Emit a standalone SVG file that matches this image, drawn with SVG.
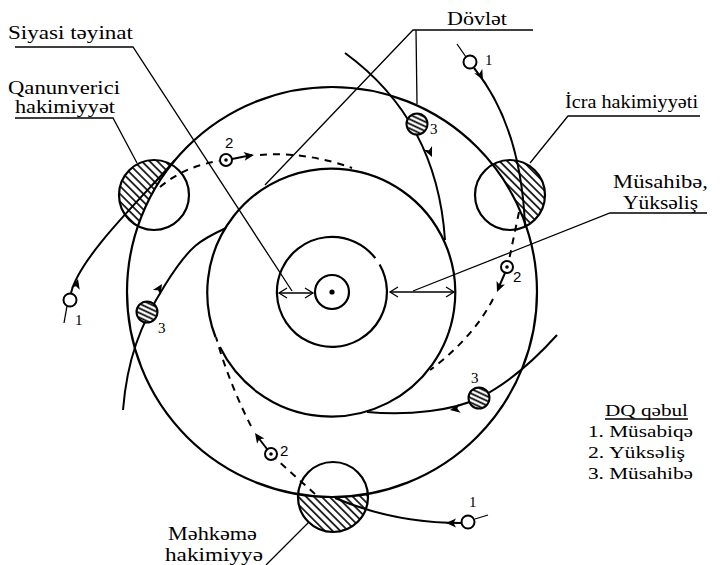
<svg xmlns="http://www.w3.org/2000/svg" xmlns:xlink="http://www.w3.org/1999/xlink" width="723" height="565" viewBox="0 0 723 565">
<style>
.c{fill:none;stroke:#000;stroke-width:2.2}
.p{fill:none;stroke:#000;stroke-width:2}
.d{fill:none;stroke:#000;stroke-width:2;stroke-dasharray:7 6}
.l{fill:none;stroke:#000;stroke-width:1.3}
.t{font-family:"Liberation Serif","Times New Roman",serif;font-size:19px;fill:#000}
.g{font-family:"Liberation Serif","Times New Roman",serif;font-size:16px;fill:#000}
.n{font-family:"Liberation Serif","Times New Roman",serif;font-size:15px;fill:#000}
.n2{font-family:"Liberation Sans",Arial,sans-serif;font-size:15px;fill:#000}
.o{fill:#fff;stroke:#000;stroke-width:2}
</style>
<defs>
<pattern id="hatch" patternUnits="userSpaceOnUse" width="5.5" height="5.5" patternTransform="rotate(45)"><line x1="0" y1="2.75" x2="5.5" y2="2.75" stroke="#000" stroke-width="1.6"/></pattern>
<pattern id="hatch2" patternUnits="userSpaceOnUse" width="4.2" height="4.2" patternTransform="rotate(25)"><line x1="0" y1="2.1" x2="4.2" y2="2.1" stroke="#000" stroke-width="1.7"/></pattern>
<path id="outside" d="M0,0H723V565H0Z M537,292 A205,205 0 1 0 127,292 A205,205 0 1 0 537,292Z" fill-rule="evenodd" fill="url(#hatch)"/>
<clipPath id="cL"><circle cx="154" cy="195" r="35"/></clipPath>
<clipPath id="cR"><circle cx="510" cy="195" r="35"/></clipPath>
<clipPath id="cB"><circle cx="333" cy="497" r="35"/></clipPath>
<path id="ah" d="M0,0 L-10,-4.5 L-7.5,0 L-10,4.5 Z" fill="#000"/>
<path id="oh" d="M-8,-5 L0,0 L-8,5" fill="none" stroke="#000" stroke-width="1.3"/>
<g id="tgt"><circle r="6" fill="#fff" stroke="#000" stroke-width="2"/><circle r="1.8" fill="#000"/></g>
</defs>
<rect width="723" height="565" fill="#fff"/>

<g id="orbits">
<circle class="c" cx="332" cy="292" r="205"/>
<path class="c" d="M215.5,337 A124,124 0 1 1 219.9,347.1"/>
<path class="c" d="M379.6,264.5 A55,55 0 1 1 375.3,258.1"/>
<circle class="c" cx="332" cy="292" r="17"/>
<circle cx="332" cy="292" r="2.6" fill="#000"/>
</g>

<g id="qanunverici">
<use href="#outside" clip-path="url(#cL)"/>
<circle class="c" cx="154" cy="195" r="35"/>
</g>
<g id="icra">
<use href="#outside" clip-path="url(#cR)"/>
<circle class="c" cx="510" cy="195" r="35"/>
</g>
<g id="mehkeme">
<use href="#outside" clip-path="url(#cB)"/>
<circle class="c" cx="333" cy="497" r="35"/>
</g>

<g id="connectors">
<path class="p" d="M71,293 C80,255 149,191 175,160"/>
<path class="l" d="M64,323 L67,306" stroke-width="2"/>
<use href="#ah" transform="translate(78,279) rotate(-75)"/>
<path class="p" d="M474,68 C500,100 522,150 525,226"/>
<path class="l" d="M457,44 L466,57" stroke-width="2"/>
<use href="#ah" transform="translate(483,80) rotate(62)"/>
<path class="p" d="M461,523 C420,523 375,515 335,498"/>
<path class="l" d="M475,519 L488,515" stroke-width="2"/>
<use href="#ah" transform="translate(446,523) rotate(180)"/>
<path class="d" d="M160,187 Q185,166 219,161"/>
<path class="p" d="M232,159 L252,155"/>
<use href="#ah" transform="translate(254,155) rotate(-8)"/>
<path class="d" d="M260,155 C290,152 325,158 352,168"/>
<path class="d" d="M519,212 L509,260"/>
<path class="p" d="M505,273 L498,289"/>
<use href="#ah" transform="translate(497,292) rotate(112)"/>
<path class="d" d="M493,299 C480,325 455,352 430,370"/>
<path class="d" d="M315,494 L276,459"/>
<path class="p" d="M267,449 L257,436"/>
<use href="#ah" transform="translate(255,433) rotate(-125)"/>
<path class="d" d="M251,426 C240,405 225,370 216,337"/>
<path class="p" d="M345,53 Q437,120 445,240"/>
<use href="#ah" transform="translate(432,157) rotate(66)"/>
<path class="p" d="M123,410 C127,360 140,325 165,285 C190,245 200,240 226,228"/>
<use href="#ah" transform="translate(162,284) rotate(-58)"/>
<path class="p" d="M557,335 C530,365 505,385 479,398 C455,410 410,416 367,412"/>
<use href="#ah" transform="translate(450,410) rotate(170)"/>
<path class="l" d="M279,293 L313,293"/>
<use href="#oh" transform="translate(313,293)"/>
<use href="#oh" transform="translate(279,293) rotate(180)"/>
<path class="l" d="M390,292 L454,292"/>
<use href="#oh" transform="translate(454,292)"/>
<use href="#oh" transform="translate(390,292) rotate(180)"/>
<path class="l" d="M15,47 L133,47 L292,291"/>
<path class="l" d="M15,118 L113,118 L137,163"/>
<path class="l" d="M533,30 L413,30 L265,185 M416,30 L417,104"/>
<path class="l" d="M700,116 L568,116 L530,163"/>
<path class="l" d="M707,213 L610,213 L413,291"/>
<path class="l" d="M266,565 L309,522"/>
</g>

<g id="markers">
<circle class="o" cx="70" cy="300" r="6.5"/>
<circle class="o" cx="470" cy="62" r="6.5"/>
<circle class="o" cx="468" cy="522" r="6.5"/>
<use href="#tgt" x="226" y="160"/>
<use href="#tgt" x="507" y="267"/>
<use href="#tgt" x="271" y="454"/>
<g><circle cx="417" cy="124" r="10.5" fill="#fff"/><circle cx="417" cy="124" r="10.5" fill="url(#hatch2)" stroke="#000" stroke-width="2"/></g>
<g><circle cx="147" cy="312" r="10.5" fill="#fff"/><circle cx="147" cy="312" r="10.5" fill="url(#hatch2)" stroke="#000" stroke-width="2"/></g>
<g><circle cx="479" cy="398" r="10.5" fill="#fff"/><circle cx="479" cy="398" r="10.5" fill="url(#hatch2)" stroke="#000" stroke-width="2"/></g>
<text class="n" x="485" y="65">1</text>
<text class="n" x="75" y="325">1</text>
<text class="n" x="469" y="507">1</text>
<text class="n2" x="225" y="148">2</text>
<text class="n2" x="513" y="282">2</text>
<text class="n2" x="280" y="456">2</text>
<text class="n" x="430" y="134">3</text>
<text class="n" x="158" y="333">3</text>
<text class="n" x="471" y="383">3</text>
</g>

<g id="labels">
<text class="t" x="8" y="39" textLength="125" lengthAdjust="spacingAndGlyphs">Siyasi təyinat</text>
<text class="t" x="8" y="94" textLength="112" lengthAdjust="spacingAndGlyphs">Qanunverici</text>
<text class="t" x="15" y="113" textLength="100" lengthAdjust="spacingAndGlyphs">hakimiyyət</text>
<text class="t" x="447" y="25" textLength="60" lengthAdjust="spacingAndGlyphs">Dövlət</text>
<text class="t" x="565" y="108" textLength="133" lengthAdjust="spacingAndGlyphs">İcra hakimiyyəti</text>
<text class="t" x="613" y="188" textLength="95" lengthAdjust="spacingAndGlyphs">Müsahibə,</text>
<text class="t" x="623" y="209" textLength="75" lengthAdjust="spacingAndGlyphs">Yüksəliş</text>
<text class="t" x="168" y="540" textLength="89" lengthAdjust="spacingAndGlyphs">Məhkəmə</text>
<text class="t" x="165" y="561" textLength="98" lengthAdjust="spacingAndGlyphs">hakimiyyə</text>
</g>

<g id="legend">
<text class="g" x="605" y="416" textLength="83" lengthAdjust="spacingAndGlyphs">DQ qəbul</text>
<line class="l" x1="605" y1="419" x2="688" y2="419" stroke-width="1"/>
<text class="g" x="588" y="437" textLength="105" lengthAdjust="spacingAndGlyphs">1. Müsabiqə</text>
<text class="g" x="588" y="458" textLength="97" lengthAdjust="spacingAndGlyphs">2. Yüksəliş</text>
<text class="g" x="588" y="479" textLength="105" lengthAdjust="spacingAndGlyphs">3. Müsahibə</text>
</g>
</svg>
